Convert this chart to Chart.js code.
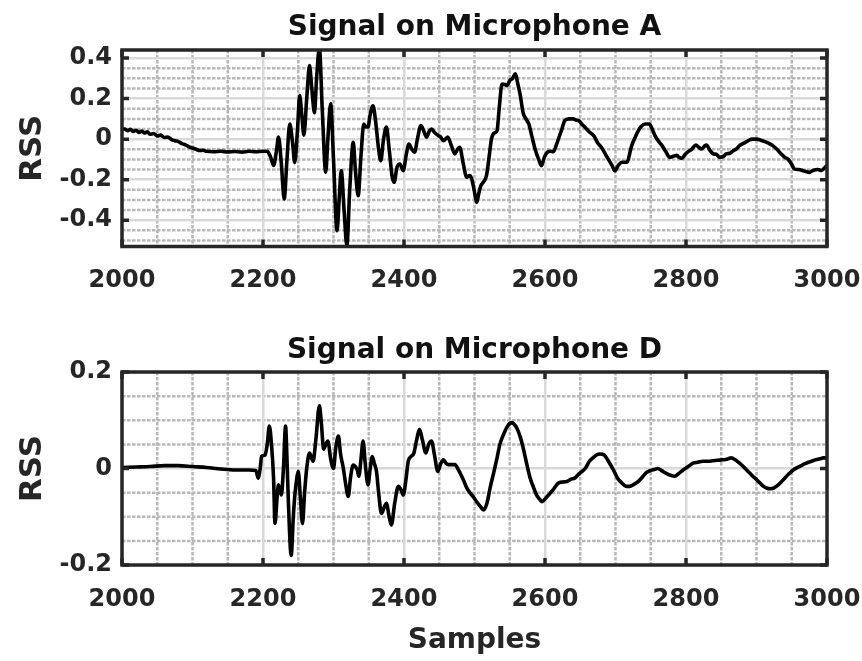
<!DOCTYPE html>
<html><head><meta charset="utf-8">
<script src="https://cdn.jsdelivr.net/npm/chart.js@4.4.0/dist/chart.umd.min.js"></script>
<style>
html,body{margin:0;padding:0;background:#fff;}
#wrap{position:relative;width:862px;height:661px;overflow:hidden;}
canvas{position:absolute;left:0;}
</style></head><body>
<div id="wrap">
<canvas id="cA" width="862" height="320" style="top:0;width:862px;height:320px"></canvas>
<canvas id="cD" width="862" height="341" style="top:320px;width:862px;height:341px"></canvas>
</div>
<script>
// ---- data ----
const titleA = 'Signal on Microphone A';
const titleD = 'Signal on Microphone D';
const yLabel = 'RSS';
const xLabel = 'Samples';

const samplesA = [2000,2004,2008,2012,2016,2020,2024,2028,2032,2036,2040,2045,2050,2055,2060,2065,2070,2075,2080,2085,2090,2095,2100,2105,2110,2115,2120,2130,2140,2150,2160,2170,2180,2190,2200,2206,2211,2215,2219,2222,2226,2230,2234,2238,2242,2245,2249,2252,2255,2258,2262,2266,2269,2273,2276,2280,2284,2289,2292,2296,2300,2305,2308,2311,2315,2319,2323,2328,2331,2335,2339,2343,2346,2349,2352,2356,2360,2364,2367,2371,2375,2379,2383,2386,2390,2394,2399,2403,2407,2411,2415,2419,2424,2428,2432,2436,2439,2444,2449,2452,2456,2462,2467,2472,2476,2479,2484,2489,2493,2496,2500,2503,2506,2509,2513,2517,2521,2524,2528,2532,2535,2539,2543,2546,2550,2554,2558,2561,2565,2569,2573,2577,2581,2586,2591,2595,2599,2603,2608,2612,2616,2619,2624,2628,2634,2640,2644,2648,2652,2657,2663,2669,2675,2680,2685,2690,2695,2699,2704,2709,2716,2723,2728,2732,2737,2742,2748,2752,2756,2761,2766,2771,2777,2782,2787,2790,2794,2799,2803,2808,2814,2818,2822,2826,2829,2834,2839,2843,2848,2853,2857,2862,2867,2871,2876,2882,2888,2894,2900,2906,2912,2917,2923,2929,2935,2940,2945,2950,2954,2960,2966,2970,2975,2980,2987,2992,2997,3000];
const rssA = [0.05,0.05,0.042,0.048,0.038,0.044,0.033,0.04,0.03,0.036,0.024,0.028,0.016,0.02,0.008,0.01,-0.002,-0.008,-0.012,-0.022,-0.028,-0.038,-0.044,-0.05,-0.056,-0.055,-0.06,-0.062,-0.06,-0.063,-0.061,-0.064,-0.06,-0.062,-0.06,-0.06,-0.09,-0.13,-0.06,0.01,-0.12,-0.295,-0.1,0.075,-0.02,-0.115,0.05,0.215,0.12,0.02,0.2,0.363,0.26,0.13,0.3,0.45,0.15,-0.164,0.0,0.174,-0.1,-0.452,-0.3,-0.155,-0.35,-0.526,-0.25,-0.016,-0.15,-0.279,-0.08,0.075,0.06,0.06,0.12,0.165,0.08,-0.05,-0.106,0.0,0.06,-0.05,-0.18,-0.213,-0.14,-0.123,-0.155,-0.08,-0.024,-0.05,-0.065,0.0,0.067,0.04,0.01,0.04,0.05,0.03,0.017,0.01,-0.008,0.01,-0.03,-0.073,-0.05,-0.04,-0.12,-0.188,-0.18,-0.196,-0.26,-0.312,-0.27,-0.23,-0.21,-0.18,-0.08,0.0,0.03,0.042,0.15,0.272,0.27,0.264,0.289,0.3,0.322,0.28,0.215,0.13,0.1,0.075,0.02,-0.05,-0.1,-0.131,-0.09,-0.065,-0.06,-0.062,-0.03,0.0,0.05,0.091,0.1,0.1,0.094,0.091,0.075,0.058,0.035,0.017,-0.02,-0.04,-0.07,-0.1,-0.13,-0.156,-0.13,-0.114,-0.114,-0.032,0.01,0.04,0.065,0.075,0.075,0.05,0.017,-0.01,-0.032,-0.06,-0.09,-0.085,-0.08,-0.09,-0.095,-0.075,-0.062,-0.05,-0.029,-0.04,-0.049,-0.035,-0.029,-0.055,-0.073,-0.075,-0.09,-0.085,-0.073,-0.07,-0.057,-0.05,-0.032,-0.02,-0.008,0.0,0.0,-0.005,-0.012,-0.02,-0.032,-0.05,-0.073,-0.09,-0.1,-0.125,-0.148,-0.15,-0.156,-0.16,-0.164,-0.155,-0.15,-0.155,-0.14,-0.13];

const samplesD = [2000,2020,2040,2060,2080,2100,2120,2140,2160,2180,2190,2193,2196,2198,2203,2206,2209,2212,2215,2217,2220,2222,2226,2229,2232,2234,2236,2240,2243,2245,2248,2250,2253,2256,2259,2262,2266,2271,2275,2280,2283,2286,2289,2292,2296,2300,2303,2307,2310,2314,2317,2321,2324,2328,2331,2334,2336,2339,2342,2345,2349,2352,2355,2358,2361,2364,2368,2372,2375,2379,2382,2387,2392,2396,2399,2403,2406,2410,2414,2418,2422,2426,2431,2435,2439,2443,2448,2452,2456,2460,2463,2468,2472,2478,2484,2489,2494,2499,2503,2508,2513,2518,2522,2527,2532,2536,2541,2547,2553,2557,2560,2565,2569,2574,2579,2584,2588,2592,2596,2600,2605,2611,2616,2619,2625,2631,2637,2642,2649,2657,2663,2668,2673,2678,2684,2690,2697,2703,2709,2715,2720,2726,2732,2738,2744,2750,2755,2760,2766,2772,2778,2784,2790,2796,2803,2810,2817,2824,2831,2838,2845,2852,2858,2864,2870,2876,2882,2888,2894,2900,2905,2910,2915,2920,2925,2930,2935,2940,2946,2952,2959,2966,2972,2978,2984,2990,2995,3000];
const rssD = [0.002,0.003,0.004,0.006,0.006,0.004,0.002,-0.001,-0.003,-0.003,-0.004,-0.02,0.0,0.025,0.028,0.05,0.088,0.05,-0.02,-0.114,-0.06,-0.034,-0.055,0.0,0.088,0.02,-0.069,-0.18,-0.1,-0.058,-0.02,-0.006,-0.06,-0.114,-0.05,0.0,0.032,0.015,0.06,0.13,0.09,0.04,0.05,0.057,0.02,0.0,0.04,0.067,0.03,0.0,-0.03,-0.058,-0.02,0.007,0.004,-0.004,-0.016,0.02,0.057,0.01,-0.034,0.0,0.025,0.01,-0.006,-0.05,-0.093,-0.08,-0.072,-0.1,-0.117,-0.07,-0.037,-0.045,-0.055,-0.02,0.015,0.025,0.032,0.06,0.081,0.06,0.032,0.05,0.057,0.03,-0.006,0.01,0.018,0.01,0.008,0.008,0.008,-0.005,-0.023,-0.04,-0.051,-0.06,-0.069,-0.078,-0.086,-0.07,-0.041,-0.01,0.022,0.05,0.07,0.088,0.095,0.09,0.084,0.065,0.043,0.01,-0.02,-0.04,-0.055,-0.063,-0.069,-0.063,-0.055,-0.045,-0.035,-0.03,-0.028,-0.027,-0.022,-0.02,-0.01,0.0,0.015,0.022,0.028,0.03,0.028,0.015,-0.003,-0.02,-0.03,-0.037,-0.037,-0.033,-0.027,-0.018,-0.008,-0.004,-0.002,0.0,-0.005,-0.01,-0.014,-0.016,-0.01,-0.003,0.004,0.011,0.013,0.015,0.015,0.016,0.017,0.018,0.019,0.022,0.018,0.011,0.003,-0.006,-0.015,-0.023,-0.03,-0.037,-0.041,-0.042,-0.04,-0.035,-0.028,-0.02,-0.011,-0.003,0.003,0.008,0.012,0.015,0.018,0.02,0.022,0.022];

// axis ranges / tick steps
const xRange = [2000, 3000];
const xMajorStep = 200, xMinorStep = 50;
const yRangeA = [-0.53, 0.44];
const yRangeD = [-0.2, 0.2];
const yMajorStepA = 0.2, yMajorStepD = 0.2, yMinorStep = 0.05;

// ---- styling ----
const FONT = "'DejaVu Sans', sans-serif";
const TXT = '#262626';

const matlabPlugin = {
  id: 'matlab',
  beforeDraw(chart, args, o) {
    const {ctx, chartArea: a, scales: {x, y}} = chart;
    ctx.save();
    ctx.strokeStyle = '#b8b8b8';
    ctx.lineWidth = 2.5;
    ctx.setLineDash([3.5, 1.5]);
    const isMajor = (v, step) => Math.abs(v / step - Math.round(v / step)) < 1e-6;
    for (let i = 0; ; i++) {
      const v = Math.ceil(x.min / o.xMinor) * o.xMinor + i * o.xMinor;
      if (v > x.max + 1e-9) break;
      if (isMajor(v, o.xMajor)) continue;
      const p = x.getPixelForValue(v);
      ctx.beginPath(); ctx.moveTo(p, a.top); ctx.lineTo(p, a.bottom); ctx.stroke();
    }
    for (let i = 0; ; i++) {
      const v = Math.ceil(y.min / o.yMinor - 1e-9) * o.yMinor + i * o.yMinor;
      if (v > y.max + 1e-9) break;
      if (isMajor(v, o.yMajor)) continue;
      const p = y.getPixelForValue(v);
      ctx.beginPath(); ctx.moveTo(a.left, p); ctx.lineTo(a.right, p); ctx.stroke();
    }
    ctx.restore();
  },
  afterDraw(chart, args, o) {
    const {ctx, chartArea: a, scales: {x, y}} = chart;
    ctx.save();
    ctx.strokeStyle = TXT;
    ctx.lineWidth = 3.5;
    ctx.setLineDash([]);
    ctx.strokeRect(a.left, a.top, a.right - a.left, a.bottom - a.top);
    const tl = 7;
    ctx.lineWidth = 3.5;
    x.ticks.forEach(t => {
      const p = x.getPixelForValue(t.value);
      ctx.beginPath(); ctx.moveTo(p, a.bottom); ctx.lineTo(p, a.bottom - tl);
      ctx.moveTo(p, a.top); ctx.lineTo(p, a.top + tl); ctx.stroke();
    });
    y.ticks.forEach(t => {
      const p = y.getPixelForValue(t.value);
      ctx.beginPath(); ctx.moveTo(a.left, p); ctx.lineTo(a.left + tl, p);
      ctx.moveTo(a.right, p); ctx.lineTo(a.right - tl, p); ctx.stroke();
    });
    // title
    ctx.fillStyle = '#111';
    ctx.font = 'bold 28px ' + FONT;
    ctx.textAlign = 'center';
    ctx.textBaseline = 'alphabetic';
    ctx.fillText(o.title, (a.left + a.right) / 2, o.titleBaseline);
    ctx.restore();
  }
};

function makeChart(id, xs, ys, yRange, yMajor, opts) {
  const data = xs.map((s, i) => ({x: s, y: ys[i]}));
  return new Chart(document.getElementById(id), {
    type: 'line',
    data: {datasets: [{data, borderColor: '#000', borderWidth: 3.6, pointRadius: 0,
      cubicInterpolationMode: 'monotone', fill: false}]},
    options: {
      responsive: false, animation: false, devicePixelRatio: 1,
      layout: {padding: {top: opts.top, right: 35, left: 0, bottom: 0}},
      plugins: {legend: {display: false}, tooltip: {enabled: false},
        matlab: {title: opts.title, titleBaseline: opts.titleBaseline,
          xMinor: xMinorStep, xMajor: xMajorStep, yMinor: yMinorStep, yMajor: yMajor}},
      scales: {
        x: {type: 'linear', min: xRange[0], max: xRange[1],
          border: {display: false},
          grid: {color: '#d9d9d9', lineWidth: 2.5, drawTicks: false},
          ticks: {stepSize: xMajorStep, color: TXT, padding: opts.xPad,
            font: {family: FONT, size: 24, weight: 'bold'}, maxRotation: 0,
            callback: v => String(v)},
          title: {display: !!opts.xTitle, text: opts.xTitle || '', color: TXT,
            font: {family: FONT, size: 28, weight: 'bold'}, padding: {top: 0, bottom: 3}},
          afterFit: s => { s.height = opts.xH; s.paddingLeft = 0; s.paddingRight = 0; }
        },
        y: {type: 'linear', min: yRange[0], max: yRange[1],
          border: {display: false},
          grid: {color: '#d9d9d9', lineWidth: 2.5, drawTicks: false},
          ticks: {stepSize: yMajor, includeBounds: false, color: TXT, padding: 10,
            font: {family: FONT, size: 24, weight: 'bold'},
            callback: v => { const r = Math.round(v * 10) / 10; return r === 0 ? '0' : String(r); }},
          title: {display: true, text: yLabel, color: TXT,
            font: {family: FONT, size: 31, weight: 'bold'}, padding: {top: 14, bottom: 0}},
          afterFit: s => { s.width = 122; s.paddingTop = 0; s.paddingBottom = 0; }
        }
      }
    },
    plugins: [matlabPlugin]
  });
}

makeChart('cA', samplesA, rssA, yRangeA, yMajorStepA,
  {title: titleA, titleBaseline: 35, top: 50, xH: 320 - 246.5, xPad: 20});
makeChart('cD', samplesD, rssD, yRangeD, yMajorStepD,
  {title: titleD, titleBaseline: 38, top: 52, xH: 341 - 245, xPad: 20, xTitle: xLabel});
</script>
</body></html>
